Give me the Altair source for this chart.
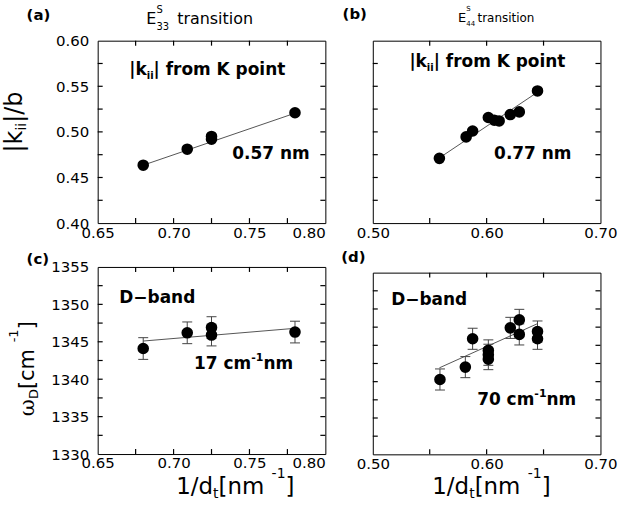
import altair as alt
import pandas as pd

FONT = "DejaVu Sans"
SERIF = "DejaVu Serif"

# ---------------- data ----------------
a_x = [0.680, 0.709, 0.725, 0.725, 0.780]
a_y = [0.4635, 0.481, 0.495, 0.492, 0.521]
a_fit_x = [0.680, 0.780]
a_fit_y = [0.4635, 0.5205]

b_x = [0.5585, 0.582, 0.5877, 0.6015, 0.6067, 0.611, 0.6208, 0.6287, 0.6447]
b_y = [0.471, 0.4945, 0.501, 0.5158, 0.5128, 0.512, 0.519, 0.5219, 0.5449]
b_fit_x = [0.5585, 0.6447]
b_fit_y = [0.4715, 0.5435]

c_x = [0.680, 0.709, 0.725, 0.725, 0.780]
c_y = [1344.1, 1346.2, 1346.9, 1345.9, 1346.3]
c_err = [1.45, 1.45, 1.45, 1.45, 1.45]
c_fit_x = [0.680, 0.780]
c_fit_y = [1345.1, 1346.8]

d_x = [0.559, 0.5813, 0.5877, 0.6015, 0.6015, 0.6015, 0.6208, 0.6287, 0.6287, 0.6447, 0.6447]
d_y = [1340.3, 1342.0, 1345.9, 1344.3, 1343.7, 1343.1, 1347.4, 1348.5, 1346.5, 1346.9, 1345.9]
d_err = [1.45] * 11
d_fit_x = [0.5585, 0.645]
d_fit_y = [1341.9, 1348.0]

# axis values
ac_xlabels = [0.65, 0.70, 0.75, 0.80]
ac_xticks = [0.675, 0.70, 0.725, 0.75, 0.775]
bd_xlabels = [0.50, 0.60, 0.70]
bd_xticks = [0.55, 0.60, 0.65]
k_ylabels = [0.40, 0.45, 0.50, 0.55, 0.60]
k_yticks = [0.425, 0.45, 0.475, 0.50, 0.525, 0.55, 0.575]
w_ylabels = [1330, 1335, 1340, 1345, 1350, 1355]
w_yticks = [1332.5, 1335, 1337.5, 1340, 1342.5, 1345, 1347.5, 1350, 1352.5]

TICK = 5  # tick length in pixels
LINE_COLOR = "#555555"
ERR_COLOR = "#444444"


def txt(s, x, y, size, bold=False, angle=0, font=FONT):
    return alt.Chart(pd.DataFrame({"t": [s]})).mark_text(
        align="left", baseline="alphabetic", font=font, fontSize=size,
        fontWeight="bold" if bold else "normal", angle=angle, color="black",
    ).encode(x=alt.value(x), y=alt.value(y), text="t:N")


def panel(W, H, xdom, ydom, xlabels, xticks, ylabels, yticks, yfmt,
          px, py, fx, fy, err=None, show_y=True, last_right=False, texts=()):
    xs = alt.Scale(domain=xdom, nice=False, zero=False)
    ys = alt.Scale(domain=ydom, nice=False, zero=False)
    xax = dict(values=xlabels, format=".2f", ticks=False, domain=False, grid=False,
               labelFont=FONT, labelFontSize=15, labelColor="black", labelPadding=2,
               labelFlush=False, labelOverlap=False, title=None)
    if last_right:
        xax["labelAlign"] = {"condition": {"test": "datum.value > 0.79", "value": "right"},
                             "value": "center"}
    xaxis = alt.Axis(**xax)
    if show_y:
        yaxis = alt.Axis(values=ylabels, format=yfmt, ticks=False, domain=False, grid=False,
                         labelFont=FONT, labelFontSize=15, labelColor="black",
                         labelPadding=9, labelOverlap=False, title=None)
    else:
        yaxis = None

    def X(f):
        return alt.X(f, type="quantitative", scale=xs, axis=xaxis, title=None)

    def Y(f):
        return alt.Y(f, type="quantitative", scale=ys, axis=yaxis, title=None)

    dy = (ydom[1] - ydom[0]) * TICK / H
    dx = (xdom[1] - xdom[0]) * TICK / W

    layers = []
    pts = pd.DataFrame({"x": px, "y": py})
    fit = pd.DataFrame({"x": fx, "y": fy})
    layers.append(alt.Chart(fit).mark_line(color=LINE_COLOR, strokeWidth=1).encode(
        x=X("x"), y=Y("y")))

    if err is not None:
        e = pd.DataFrame({"x": px, "lo": [a - b for a, b in zip(py, err)],
                          "hi": [a + b for a, b in zip(py, err)]})
        layers.append(alt.Chart(e).mark_rule(color=ERR_COLOR, strokeWidth=1).encode(
            x=X("x"), y=Y("lo"), y2=alt.Y2("hi")))
        for f in ["lo", "hi"]:
            layers.append(alt.Chart(e).mark_tick(orient="horizontal", size=10, thickness=1,
                                                 color=ERR_COLOR, opacity=1).encode(
                x=X("x"), y=Y(f)))

    # inward ticks on all four sides (built from the tick value lists)
    xt = pd.DataFrame({
        "x": list(xticks) * 2,
        "lo": [ydom[0]] * len(xticks) + [ydom[1] - dy] * len(xticks),
        "hi": [ydom[0] + dy] * len(xticks) + [ydom[1]] * len(xticks),
    })
    layers.append(alt.Chart(xt).mark_rule(color="black", strokeWidth=1.2).encode(
        x=X("x"), y=Y("lo"), y2=alt.Y2("hi")))
    yt = pd.DataFrame({
        "y": list(yticks) * 2,
        "lo": [xdom[0]] * len(yticks) + [xdom[1] - dx] * len(yticks),
        "hi": [xdom[0] + dx] * len(yticks) + [xdom[1]] * len(yticks),
    })
    layers.append(alt.Chart(yt).mark_rule(color="black", strokeWidth=1.2).encode(
        y=Y("y"), x=X("lo"), x2=alt.X2("hi")))

    layers.append(alt.Chart(pts).mark_circle(size=135, color="black", opacity=1).encode(
        x=X("x"), y=Y("y")))

    layers.extend(texts)
    return alt.layer(*layers).properties(width=W, height=H)


W = 228.4

# ---- panel (a) ----
a_texts = [
    txt("(a)", -71.3, -20.3, 15, bold=True),
    txt("E", 48.7, -16.3, 16),
    txt("S", 59.0, -28, 10),
    txt("33", 59.0, -11, 10),
    txt("transition", 79.7, -16.3, 16),
    txt("|k", 31.7, 34, 17, bold=True),
    txt("ii", 49.2, 38, 10, bold=True),
    txt("| from K point", 56.1, 34, 17, bold=True),
    txt("0.57 nm", 135, 119, 17, bold=True),
    # rotated y title |k_ii|/b
    txt("|k", -76.3, 112.2, 24, angle=270),
    txt("ii", -72.3, 90.2, 14, angle=270),
    txt("|/b", -76.3, 82.4, 24, angle=270),
]
pa = panel(W, 183, [0.65, 0.80], [0.40, 0.60], ac_xlabels, ac_xticks, k_ylabels, k_yticks, ".2f",
           a_x, a_y, a_fit_x, a_fit_y, show_y=True, last_right=True, texts=a_texts)

# ---- panel (b) ----
b_texts = [
    txt("(b)", -30.3, -21.3, 15, bold=True),
    txt("E", 85.5, -18.6, 13),
    txt("S", 93.8, -30, 7),
    txt("44", 93.8, -15, 7),
    txt("transition", 105.0, -18.6, 12),
    txt("|k", 36.7, 26.5, 17, bold=True),
    txt("ii", 54.2, 30.5, 10, bold=True),
    txt("| from K point", 61.1, 26.5, 17, bold=True),
    txt("0.77 nm", 121.7, 118.4, 17, bold=True),
]
pb = panel(W, 183, [0.50, 0.70], [0.40, 0.60], bd_xlabels, bd_xticks, k_ylabels, k_yticks, ".2f",
           b_x, b_y, b_fit_x, b_fit_y, show_y=False, texts=b_texts)

# ---- panel (c) ----
c_texts = [
    txt("(c)", -71.3, -3.3, 15, bold=True),
    txt("D\u2212band", 21.7, 36, 17, bold=True),
    txt("17 cm", 96.7, 102.7, 17, bold=True),
    txt("-1", 154.1, 94.7, 11, bold=True),
    txt("nm", 166.3, 102.7, 17, bold=True),
    # x title 1/d_t [nm^-1]
    txt("1/d", 78.7, 227.7, 23),
    txt("t", 115.7, 231.7, 14),
    txt(" [nm", 121.2, 227.7, 23),
    txt("-1", 174.5, 211.7, 14),
    txt("]", 188.5, 227.7, 23),
    # rotated y title omega_D [cm^-1]
    txt("\u03c9", -64.3, 149.7, 21, angle=270, font=SERIF),
    txt("D", -60.3, 132.5, 13, angle=270),
    txt(" [cm", -64.3, 122.5, 21, angle=270),
    txt("-1", -80.3, 75.6, 13, angle=270),
    txt("]", -64.3, 62.6, 21, angle=270),
]
pc = panel(W, 187.7, [0.65, 0.80], [1330, 1355], ac_xlabels, ac_xticks, w_ylabels, w_yticks, "d",
           c_x, c_y, c_fit_x, c_fit_y, err=c_err, show_y=True, last_right=True, texts=c_texts)

# ---- panel (d) ----
d_texts = [
    txt("(d)", -31.6, -10.7, 15, bold=True),
    txt("D\u2212band", 18.4, 32.3, 17, bold=True),
    txt("70 cm", 104.7, 132.3, 17, bold=True),
    txt("-1", 162.1, 124.3, 11, bold=True),
    txt("nm", 174.3, 132.3, 17, bold=True),
    txt("1/d", 59.7, 222.3, 23),
    txt("t", 96.7, 226.3, 14),
    txt(" [nm", 102.2, 222.3, 23),
    txt("-1", 155.5, 206.3, 14),
    txt("]", 169.5, 222.3, 23),
]
pd_ = panel(W, 182.3, [0.50, 0.70], [1330, 1355], bd_xlabels, bd_xticks, w_ylabels, w_yticks, "d",
            d_x, d_y, d_fit_x, d_fit_y, err=d_err, show_y=False, texts=d_texts)

left = alt.vconcat(pa, pc, spacing=44, bounds="flush")
right = alt.vconcat(pb, pd_, spacing=49.7, bounds="flush")
chart = alt.hconcat(left, right, spacing=13).properties(
    padding={"left": 2, "top": 3, "right": 0, "bottom": 0},
    background="white",
).configure_view(stroke="black", strokeWidth=1)

chart.save("out.html", embed_options={"renderer": "svg", "actions": False})
